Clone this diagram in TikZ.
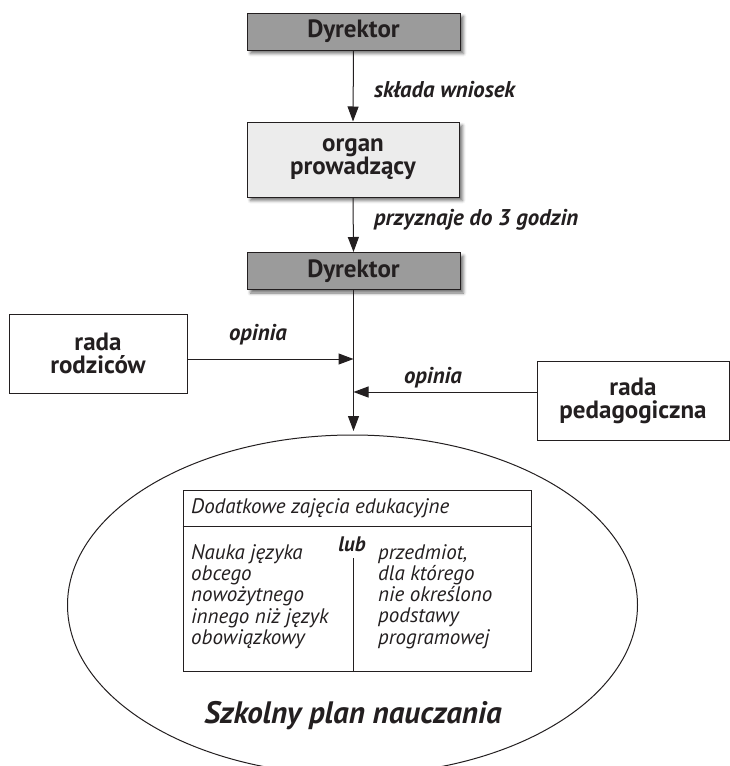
\documentclass[tikz,border=0pt]{standalone}
\usepackage{fontspec}
\setmainfont{PT Sans}
\usetikzlibrary{arrows.meta,shadows.blur,calc,shapes.geometric}
\definecolor{ink}{HTML}{231F20}
\definecolor{darkfill}{HTML}{9B9B9B}
\definecolor{lightfill}{HTML}{ECECEC}
\begin{document}
\begin{tikzpicture}[x=1pt,y=-1pt,
  every node/.style={text=ink},
  box/.style={draw=ink, line width=1pt, align=center, inner sep=0pt,
    font=\fontsize{25}{23}\selectfont\bfseries},
  shade/.style={blur shadow={shadow xshift=3.5pt, shadow yshift=-3.5pt,
    shadow blur radius=3pt, shadow opacity=55}},
  darkbox/.style={box, shade, fill=darkfill, minimum width=213pt, minimum height=37pt},
  lightbox/.style={box, shade, fill=lightfill, minimum width=212pt, minimum height=75pt},
  whitebox/.style={box, fill=white},
  lbl/.style={font=\fontsize{22.8}{26}\selectfont\bfseries\itshape, inner sep=0pt},
  itx/.style={font=\fontsize{21}{21.3}\selectfont\itshape, inner sep=0pt, align=left},
  arr/.style={draw=ink, line width=1pt, -{Triangle[length=15pt,width=11pt]}},
  ln/.style={draw=ink, line width=1pt}
]
\useasboundingbox (0,0) rectangle (730,766);

% main column
\node[darkbox]  (d1)  at (353.5,31.5) {Dyrektor};
\node[lightbox] (org) at (353,159.5) {organ\\prowadzący};
\node[darkbox]  (d2)  at (353.5,271) {Dyrektor};

% side boxes
\node[whitebox, minimum width=178pt, minimum height=79pt] (rr) at (98,353.5) {rada\\rodziców};
\node[whitebox, minimum width=192pt, minimum height=79pt] (rp) at (633,400.5) {rada\\pedagogiczna};

% ellipse
\node[draw=ink, line width=1pt, ellipse, minimum width=570pt, minimum height=340pt, inner sep=0pt] (plan) at (352.5,605) {};

% connectors
\draw[arr] (d1.south) -- (org.north);
\draw[arr] (org.south) -- (d2.north);
\coordinate (j1) at (353.5,359);
\coordinate (j2) at (353.5,392);
\coordinate (tip) at (353.5,431);
\draw[arr] (d2.south) -- (tip);
\draw[arr] (rr.east |- j1) -- (j1);
\draw[arr] (rp.west |- j2) -- (j2);

% labels
\node[lbl, anchor=west] (l1) at (374,89.5) {składa wniosek};
\node[lbl, anchor=west] (l2) at (374,220) {przyznaje do 3 godzin};
\node[lbl] (l3) at (258,334.5) {opinia};
\node[lbl] (l4) at (433,377.5) {opinia};

% inner table
\node[draw=ink, line width=1pt, minimum width=348pt, minimum height=181pt, inner sep=0pt] (tbl) at (357,580.5) {};
\coordinate (hl) at (183,526);
\draw[ln] (tbl.west |- hl) -- (tbl.east |- hl);
\coordinate (dv) at (353,558);
\draw[ln] (dv) -- (dv |- tbl.south);
\node[itx, anchor=west] (hdr) at (191,508) {Dodatkowe zajęcia edukacyjne};
\node[font=\fontsize{21}{21}\selectfont\bfseries\itshape, inner sep=0pt] (lub) at (352,544) {lub};
\node[itx, anchor=north west] (lc) at (191,544) {Nauka języka\\obcego\\nowożytnego\\innego niż język\\obowiązkowy};
\node[itx, anchor=north west] (rc) at (378,544) {przedmiot,\\dla którego\\nie określono\\podstawy\\programowej};

\node[font=\fontsize{31}{36}\selectfont\bfseries\itshape, inner sep=0pt] (title) at (353,716) {Szkolny plan nauczania};
\end{tikzpicture}
\end{document}
